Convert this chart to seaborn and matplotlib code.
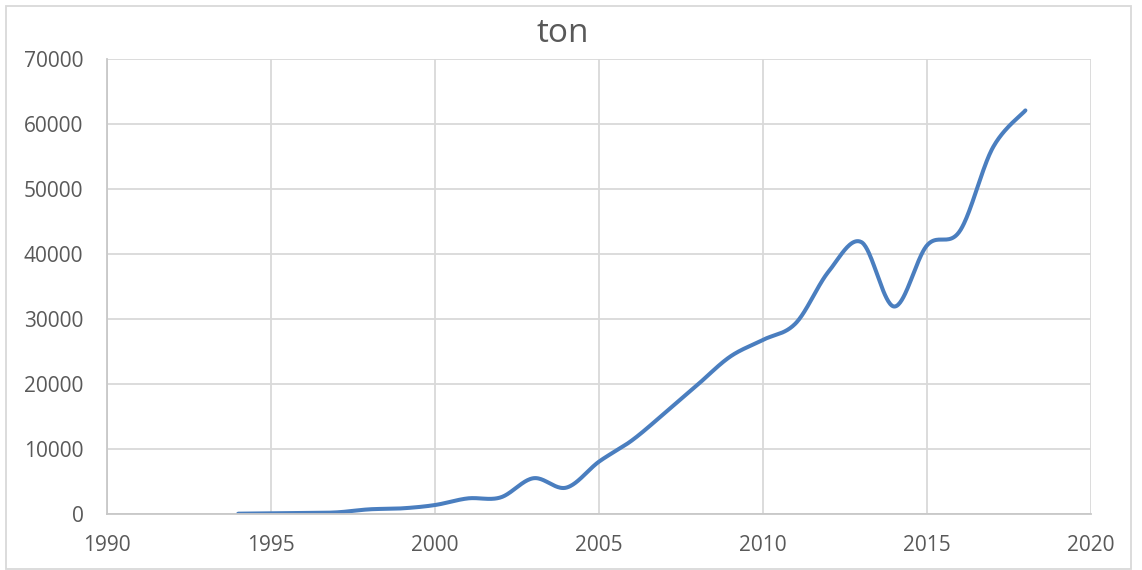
import numpy as np
import pandas as pd
import matplotlib
matplotlib.use("Agg")
import matplotlib.pyplot as plt
import seaborn as sns
from matplotlib.patches import Rectangle

years = [1994, 1995, 1996, 1997, 1998, 1999, 2000, 2001, 2002, 2003, 2004, 2005,
         2006, 2007, 2008, 2009, 2010, 2011, 2012, 2013, 2014, 2015, 2016, 2017, 2018]
tons = [50, 100, 150, 250, 720, 870, 1380, 2400, 2550, 5500, 4050, 8050,
        11300, 15500, 19850, 24200, 26770, 29340, 37280, 41800, 31900, 41300, 43500, 56260, 62050]
x_ticks = [1990, 1995, 2000, 2005, 2010, 2015, 2020]
y_ticks = [0, 10000, 20000, 30000, 40000, 50000, 60000, 70000]
title = "ton"

sns.set_theme(style="white")
plt.rcParams['font.family'] = ['Open Sans', 'DejaVu Sans']


def smooth(xs, ys, n=40):
    # Excel-like smoothed line: Catmull-Rom via cubic Bezier segments
    P = np.column_stack([xs, ys]).astype(float)
    P_ext = np.vstack([P[0], P, P[-1]])
    out = []
    t = np.linspace(0, 1, n)[:, None]
    for i in range(len(P) - 1):
        p0 = P_ext[i + 1]
        p3 = P_ext[i + 2]
        c1 = p0 + (P_ext[i + 2] - P_ext[i]) / 6.0
        c2 = p3 - (P_ext[i + 3] - P_ext[i + 1]) / 6.0
        seg = ((1 - t) ** 3) * p0 + 3 * ((1 - t) ** 2) * t * c1 + 3 * (1 - t) * t ** 2 * c2 + t ** 3 * p3
        out.append(seg if i == 0 else seg[1:])
    out = np.vstack(out)
    return out[:, 0], out[:, 1]


sx, sy = smooth(years, tons)
df = pd.DataFrame({"year": sx, "ton": sy})

fig = plt.figure(figsize=(11.42, 5.70), dpi=100)
ax = fig.add_axes([107 / 1142, 1 - 514 / 570, (1091 - 107) / 1142, (514 - 58.7) / 570])

sns.lineplot(data=df, x="year", y="ton", sort=False, ax=ax, color="#4A7EBF",
             linewidth=2.9, solid_capstyle="round", estimator=None)

ax.set_xlim(1990, 2020)
ax.set_ylim(0, 70000)
ax.set_xticks(x_ticks)
ax.set_yticks(y_ticks)
ax.set_xticklabels([str(v) for v in x_ticks])
ax.set_yticklabels([str(v) for v in y_ticks])
ax.grid(True, color="#D9D9D9", linewidth=1.3)
ax.set_axisbelow(True)
ax.set_xlabel("")
ax.set_ylabel("")
for s in ["top", "right"]:
    ax.spines[s].set_visible(False)
for s in ["left", "bottom"]:
    ax.spines[s].set_color("#C8C8C8")
    ax.spines[s].set_linewidth(1.3)
ax.tick_params(axis="both", length=0, labelsize=15, colors="#595959")
ax.tick_params(axis="y", pad=17)
ax.tick_params(axis="x", pad=15)

fig.text(563 / 1142, 1 - 33 / 570, title, ha="center", va="center", fontsize=24, color="#595959")

fig.patches.append(Rectangle((6 / 1142, 1 / 570), (1131 - 6) / 1142, (564.5 - 1) / 570,
                             transform=fig.transFigure, fill=False, edgecolor="#D9D9D9",
                             linewidth=1.3))

fig.savefig("out.png", dpi=100)
